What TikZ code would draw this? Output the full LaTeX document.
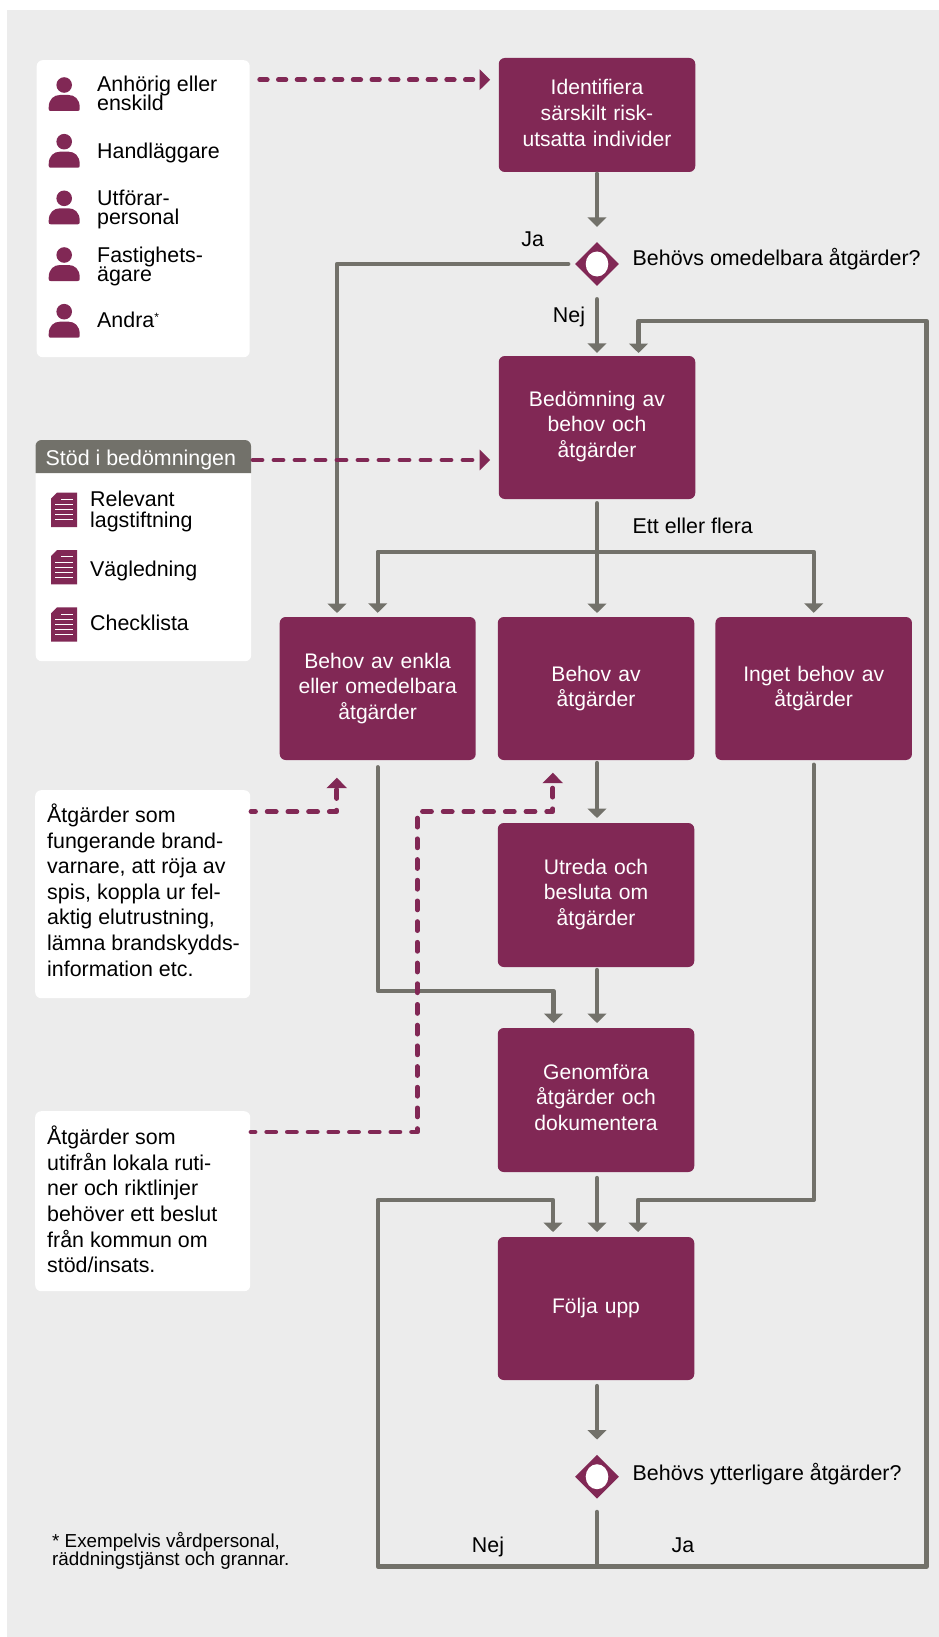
\documentclass[tikz,border=0pt]{standalone}
\usepackage{fontspec}
\setmainfont{Liberation Sans}
\usetikzlibrary{arrows.meta,shapes.geometric,calc}
\definecolor{plum}{HTML}{812855}
\definecolor{stone}{HTML}{72716A}
\definecolor{paper}{HTML}{ECECEC}
\lineskiplimit=-100pt
\newcommand{\liftby}[1]{\rule[-#1]{0pt}{#1}}
\newcommand{\personicon}[1]{%
  \begin{scope}[shift={(0,#1)}]
    \fill[plum] (64.2,0) circle (7.8);
    \fill[plum] (48.7,22.5) .. controls (48.7,14) and (54,10) .. (60,10) -- (68.5,10)
      .. controls (74.5,10) and (79.7,14) .. (79.7,22.5) -- (79.7,24) .. controls (79.7,25.3) and (79,26) .. (77.7,26)
      -- (50.7,26) .. controls (49.4,26) and (48.7,25.3) .. (48.7,24) -- cycle;
  \end{scope}}
\newcommand{\docicon}[1]{%
  \begin{scope}[shift={(0,#1)}]
    \fill[plum] (51,6) -- (57,0) -- (77,0) -- (77,34.3) -- (51,34.3) -- cycle;
    \draw[white,line width=0.9pt] (61,6.7) -- (72.7,6.7) (55,12) -- (72.7,12) (55,17.2) -- (72.7,17.2) (55,22.2) -- (72.7,22.2) (55,27.2) -- (72.7,27.2);
  \end{scope}}
\tikzset{
  px/.style={x=1pt,y=-1pt},
  stepbox/.style={rectangle,fill=plum,rounded corners=6pt,inner sep=0pt,text=white,align=center,
    font=\fontsize{21.1}{25.6}\selectfont,minimum height=143pt,minimum width=196.5pt,text width=190pt},
  panel/.style={rectangle,fill=white,rounded corners=6pt,inner sep=0pt},
  choice/.style={diamond,fill=plum,aspect=1,inner sep=0pt,minimum width=44pt,minimum height=44pt,
    path picture={\fill[white] (path picture bounding box.center) ellipse (11.3pt and 12.5pt);}},
  tight/.style={anchor=west,inner sep=0pt,align=left,font=\fontsize{21.4}{19}\selectfont},
  mid/.style={anchor=west,inner sep=0pt,align=left,font=\fontsize{21.4}{20.5}\selectfont},
  wide/.style={anchor=west,inner sep=0pt,align=left,font=\fontsize{21.4}{25.6}\selectfont},
  plain/.style={inner sep=0pt,font=\fontsize{21.4}{25}\selectfont},
  foot/.style={anchor=west,inner sep=0pt,align=left,font=\fontsize{18.8}{18.5}\selectfont},
  flow/.style={draw=stone,line width=4.3pt,line cap=round,line join=round,-{Triangle[width=18.7pt,length=9.5pt]}},
  flowline/.style={draw=stone,line width=4.3pt,line cap=round,line join=round},
  hint/.style={draw=plum,line width=4.8pt,line cap=round,line join=round,
    -{Triangle[width=20pt,length=10.5pt]}},
}
\begin{document}
\begin{tikzpicture}[px]
\useasboundingbox (0,0) rectangle (938.5,1637);
\fill[white] (0,0) rectangle (938.5,1637);
\fill[paper] (7,10) rectangle (938.5,1637);

% left panels
\node[panel,anchor=north west,minimum width=213pt,minimum height=297pt] (people) at (36.5,60) {};
\node[panel,anchor=north west,minimum width=215.5pt,minimum height=221pt] (support) at (35.5,440) {};
\fill[stone] (35.5,473) [rounded corners=6pt] -- (35.5,440) -- (251,440) [sharp corners] -- (251,473) -- cycle;
\node[plain,text=white,anchor=west] (supporthead) at (45.5,460) {Stöd i bedömningen};
\node[panel,anchor=north west,minimum width=215pt,minimum height=208pt] (easy) at (35,790) {};
\node[panel,anchor=north west,minimum width=215pt,minimum height=180pt] (local) at (35,1111) {};

\personicon{85}\personicon{141.7}\personicon{198.3}\personicon{255}\personicon{311.7}
\node[tight] (t1) at (97,93) {Anhörig eller\\enskild};
\node[tight] (t2) at (97,153) {Handläggare};
\node[tight] (t3) at (97,209) {Utförar-\\personal};
\node[tight] (t4) at (97,266.5) {Fastighets-\\ägare};
\node[tight] (t5) at (97,319.7) {Andra\raisebox{6pt}{\fontsize{12}{12}\selectfont *}};

\docicon{492.7}\docicon{550}\docicon{607.3}
\node[mid] (d1) at (90,511.5) {Relevant\\lagstiftning};
\node[mid] (d2) at (90,570.5) {Vägledning};
\node[mid] (d3) at (90,622.5) {Checklista};

\node[wide] (easytext) at (47,890) {Åtgärder som\\fungerande brand-\\varnare, att röja av\\spis, koppla ur fel-\\aktig elutrustning,\\lämna brandskydds-\\information etc.};
\node[wide] (localtext) at (47,1199.5) {Åtgärder som\\utifrån lokala ruti-\\ner och riktlinjer\\behöver ett beslut\\från kommun om\\stöd/insats.};
\node[foot] (note) at (52,1551) {* Exempelvis vårdpersonal,\\räddningstjänst och grannar.};

% process
\node[stepbox,minimum height=114pt] (identify) at (597,115) {Identifiera\\särskilt risk-\\utsatta individer\liftby{4.3pt}};
\node[choice] (q1) at (597,264) {};
\node[plain,anchor=west] (q1text) at (632.5,259) {Behövs omedelbara åtgärder?};
\node[stepbox] (assess) at (597,427.5) {Bedömning av\\behov och\\åtgärder\liftby{6.5pt}};
\node[stepbox,minimum width=196pt] (simple) at (377.7,688.5) {Behov av enkla\\eller omedelbara\\åtgärder};
\node[stepbox] (need) at (596,688.5) {Behov av\\åtgärder};
\node[stepbox] (noneed) at (813.7,688.5) {Inget behov av\\åtgärder};
\node[stepbox,minimum height=144pt] (decide) at (596,895) {Utreda och\\besluta om\\åtgärder\liftby{5.5pt}};
\node[stepbox,minimum height=144pt] (execute) at (596,1100) {Genomföra\\åtgärder och\\dokumentera\liftby{5.3pt}};
\node[stepbox] (follow) at (596,1308.5) {Följa upp};
\node[choice] (q2) at (597,1476.7) {};
\node[plain,anchor=west] (q2text) at (632.5,1473.7) {Behövs ytterligare åtgärder?};

\node[plain] (ja1) at (532.6,239) {Ja};
\node[plain] (nej1) at (569,317) {Nej};
\node[plain,anchor=west] (several) at (632.5,526) {Ett eller flera};
\node[plain] (nej2) at (488,1547) {Nej};
\node[plain] (ja2) at (683,1545) {Ja};

% helper points
\coordinate (simpleA) at (337,617);
\coordinate (assessB) at (638.5,356);
\coordinate (split) at (597,551.7);
\coordinate (assessOut) at (597,617);
\coordinate (needIn) at (597,823);
\coordinate (needOut) at (597,760);
\coordinate (decideIn) at (597,967);
\coordinate (execIn) at (597,1028);
\coordinate (execOut) at (597,1172);
\coordinate (followIn) at (597,1237);
\coordinate (followOut) at (597,1380);
\coordinate (loopJ) at (597,1566.5);
\coordinate (loopL) at (377.7,1200);
\coordinate (loopR) at (926.5,321);
\coordinate (followL) at (553,1237);
\coordinate (followR) at (638,1237);
\coordinate (execL) at (553.5,1028);
\coordinate (jogE) at (553.5,990.7);
\coordinate (jogF) at (638,1200);
\coordinate (jogG) at (553,1200);

% grey connectors
\draw[flow,shorten <=1.5pt,shorten >=15pt] (identify) -- (q1);
\draw[flow,shorten <=6.5pt,shorten >=4pt] (q1.west) -| (simpleA);
\draw[flow,shorten <=13pt,shorten >=3pt] (q1.south) -- (assess.north);
\draw[flowline,shorten <=4pt] (assess.south) -- (split);
\draw[flow,shorten >=4pt] (split) -- (assessOut);
\draw[flow,shorten >=4pt] (split) -| (simple.north);
\draw[flow,shorten >=4pt] (split) -| (noneed.north);
\draw[flow,shorten <=3pt,shorten >=5pt] (needOut) -- (needIn);
\draw[flow,shorten <=3pt,shorten >=5pt] (decideIn) -- (execIn);
\draw[flow,shorten <=7pt,shorten >=5pt] (simple.south) |- (jogE) -- (execL);
\draw[flow,shorten <=6pt,shorten >=5pt] (execOut) -- (followIn);
\draw[flow,shorten <=4.5pt,shorten >=5pt] (noneed.south) |- (jogF) -- (followR);
\draw[flow,shorten <=6pt,shorten >=15pt] (followOut) -- (q2.north);
\draw[flowline,shorten <=13pt] (q2.south) -- (loopJ);
\draw[flow,shorten >=5pt] (loopJ) -| (loopL) -- (jogG) -- (followL);
\draw[flow,shorten >=3pt] (loopJ) -| (loopR) -- (assessB |- loopR) -- (assessB);

% dashed hints
\coordinate (hintA) at (490.2,79.7);
\coordinate (hintAs) at (251,79.7);
\coordinate (hintB) at (490.2,460);
\coordinate (hintBs) at (253,460);
\coordinate (hintC) at (251,811.7);
\coordinate (hintCe) at (336.8,777.7);
\coordinate (hintD) at (251,1132);
\coordinate (hintDc) at (417.2,811.7);
\coordinate (hintDe) at (552.8,772.7);
\draw[hint,dash pattern=on 7.5pt off 11.2pt,dash phase=10pt] (hintAs) -- (hintA);
\draw[hint,dash pattern=on 9pt off 12pt] (hintBs) -- (hintB);
\draw[hint,dash pattern=on 9pt off 11.7pt,dash phase=4.5pt] (hintC) -| (hintCe);
\draw[hint,dash pattern=on 9pt off 11.7pt,dash phase=5pt] (hintD) -| (hintDc) -| (hintDe);
\end{tikzpicture}
\end{document}
